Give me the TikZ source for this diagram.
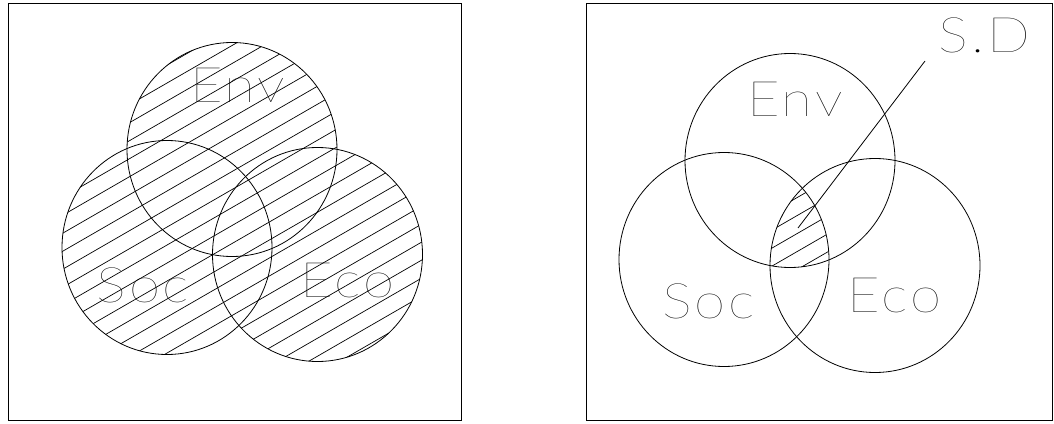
\documentclass[tikz,border=0pt]{standalone}
\usepackage{fontspec}
\newfontfamily\cadfont[LetterSpace=5]{Lato Thin}
\newcommand\cadtext[1]{\scalebox{1.15}[1]{#1}}
\tikzset{
  frame/.style={draw, line width=1pt},
  venn/.style={draw, line width=0.8pt},
  hatch/.style={line width=0.7pt},
  lbl/.style={inner sep=0pt, font=\cadfont\fontsize{49}{49}\selectfont},
  leader/.style={line width=0.8pt}
}
\begin{document}
\begin{tikzpicture}[x=1pt,y=-1pt]
\useasboundingbox (0,0) rectangle (1054,423);
% frames
\draw[frame] (8,3.5) rectangle (461,420.5);
\draw[frame] (586,3.5) rectangle (1052.5,420.5);

% ---------- left panel ----------
\begin{scope}
  \clip (232,149.5) ellipse [x radius=105, y radius=107]
        (167,247.5) ellipse [x radius=105, y radius=107]
        (317.5,254.5) ellipse [x radius=105, y radius=107];
  \foreach \k in {7,...,31}{
    \pgfmathsetmacro\cc{17.4+18*\k}
    \draw[hatch] (50,{\cc-0.577*50}) -- (430,{\cc-0.577*430});
  }
\end{scope}
\draw[venn] (232,149.5) ellipse [x radius=105, y radius=107];
\draw[venn] (167,247.5) ellipse [x radius=105, y radius=107];
\draw[venn] (317.5,254.5) ellipse [x radius=105, y radius=107];
\node[lbl] (lenv) at (237.5,85) {\cadtext{Env}};
\node[lbl] (lsoc) at (143,285) {\cadtext{Soc}};
\node[lbl] (leco) at (347.5,280.5) {\cadtext{Eco}};

% ---------- right panel ----------
\begin{scope}
  \clip (790,160.5) ellipse [x radius=105, y radius=107];
  \clip (724,259.5) ellipse [x radius=105, y radius=107];
  \clip (875,265.5) ellipse [x radius=105, y radius=107];
  \foreach \k in {34,...,42}{
    \pgfmathsetmacro\cc{9.5+18*\k}
    \draw[hatch] (750,{\cc-0.577*750}) -- (860,{\cc-0.577*860});
  }
\end{scope}
\draw[venn] (790,160.5) ellipse [x radius=105, y radius=107];
\draw[venn] (724,259.5) ellipse [x radius=105, y radius=107];
\draw[venn] (875,265.5) ellipse [x radius=105, y radius=107];
\node[lbl] (renv) at (795,99.5) {\cadtext{Env}};
\node[lbl] (rsoc) at (708.5,301.5) {\cadtext{Soc}};
\node[lbl] (reco) at (894.5,295.5) {\cadtext{Eco}};
\node[lbl] (sd) at (984.5,35) {\cadtext{S.D}};
\coordinate (sdfrom) at (925,61);
\coordinate (sdtip) at (798,228);
\draw[leader] (sdfrom) -- (sdtip);
\end{tikzpicture}
\end{document}
